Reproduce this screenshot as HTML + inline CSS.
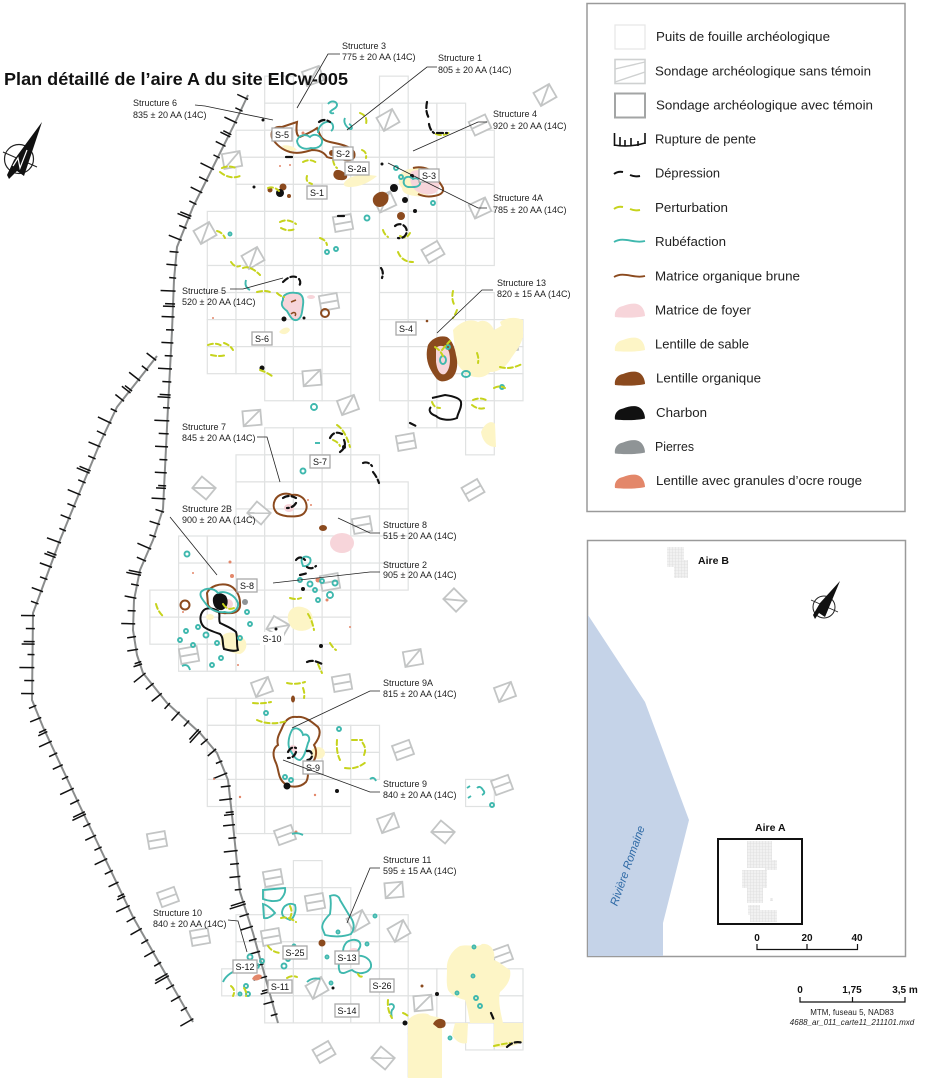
<!DOCTYPE html>
<html><head><meta charset="utf-8"><style>
html,body{margin:0;padding:0;background:#fff;}
svg{display:block;font-family:"Liberation Sans",sans-serif;}
.lb{font-size:9px;fill:#222;}
.lg{font-size:12.5px;fill:#222;}
.pt{fill:none;stroke:#c6d31c;stroke-width:2;stroke-dasharray:5 3;stroke-linecap:round;}
.dp{fill:none;stroke:#111;stroke-width:2.2;stroke-dasharray:6 3;stroke-linecap:round;}
.tl{fill:none;stroke:#3fb8ae;stroke-width:1.9;}
.br{fill:none;stroke:#8b4a1e;stroke-width:2;}
.sand{fill:#fdf5c6;}
.pink{fill:#f7d5da;}
.bf{fill:#8b4a1e;}
.ld{fill:none;stroke:#222;stroke-width:0.8;}
.sl rect{fill:#fff;stroke:#a9a9a9;stroke-width:1.3;}
.sl text{font-size:9px;fill:#111;text-anchor:middle;}
</style></head><body>
<svg id="s" width="925" height="1080" viewBox="0 0 925 1080" xmlns="http://www.w3.org/2000/svg">
<defs>
<pattern id="gp" width="3" height="3" patternUnits="userSpaceOnUse"><rect width="3" height="3" fill="#f1f1f1"/><path d="M0,0H3M0,0V3" stroke="#d6d6d6" stroke-width="0.6"/></pattern>
</defs>
<rect width="925" height="1080" fill="#fff"/>
<g id="grid" fill="#fff" stroke="#e0e2e2" stroke-width="1.2"></g>
<g id="sq" fill="none" stroke="#c3c5c5" stroke-width="1.8"></g>

<!-- slope lines -->
<path id="inner" d="M248,95 L233,127 L213,167 L193,207 L177,247 L174,280 L172,331 L168,407 L163,509 L153,540 L140,570 L134,600 L133,630 L137,655 L143,673 L167,703 L200,733 L217,753 L228,780 L232,815 L240,892 L253,933 L278,1023" fill="none" stroke="#8a8c8c" stroke-width="2"/>
<path id="outer" d="M157,356 L143,374 L117,407 L100,443 L83,484 L60,540 L33,613 L32,700 L43,727 L77,800 L133,917 L193,1022" fill="none" stroke="#8a8c8c" stroke-width="2"/>
<g id="ticks" stroke="#111" stroke-width="1.5"></g>

<!-- sand -->
<g class="sand">
<path d="M282,146 C286,144 294,146 297,150 C292,152 286,151 282,146 Z"/>
<path d="M344,183 C348,176 360,173 377,176 C370,182 360,187 350,187 C346,187 343,186 344,183 Z"/>
<path d="M400,175 C402,170 410,168 418,168 C422,166 430,167 432,170 L435,190 C430,196 420,197 415,196 C408,195 402,193 402,188 C398,184 398,180 400,175 Z"/>
<path d="M279,332 C283,327 289,326 290,330 C288,334 283,336 279,332 Z"/>
<path d="M453,330 C460,322 470,318 478,322 C485,318 492,324 494,330 C502,326 508,320 512,325 C520,320 524,326 523,335 C522,345 515,352 510,360 C505,368 498,372 490,372 C484,380 470,378 465,372 C458,368 455,360 455,350 Z"/>
<path d="M500,322 C505,318 515,316 523,320 L523,338 C515,340 505,336 500,322 Z"/>
<path d="M481,432 C485,422 492,420 495,424 L496,447 C490,447 483,444 481,432 Z"/>
<path d="M222,636 C228,630 238,632 245,640 C248,645 246,652 240,654 C233,654 228,650 223,648 C220,644 220,640 222,636 Z"/>
<path d="M288,615 C290,607 298,605 305,608 C312,610 315,620 312,627 C306,632 298,632 292,628 C289,624 287,620 288,615 Z"/>
<ellipse cx="210" cy="617" rx="4" ry="3"/>
<ellipse cx="318" cy="753" rx="7" ry="6"/>
<path d="M447,970 C446,960 452,950 460,946 C470,944 478,948 482,944 C490,943 496,950 494,960 C500,962 506,968 510,970 C512,980 505,988 500,992 C498,1000 500,1010 503,1023 L470,1023 C468,1012 467,1005 465,1000 C458,998 452,996 448,990 C446,984 447,976 447,970 Z"/>
<path d="M408,1020 C412,1015 420,1012 428,1014 C432,1018 438,1015 442,1020 L442,1078 L408,1078 Z"/>
<path d="M455,1023 L468,1023 L467,1043 C460,1045 455,1040 452,1035 Z"/>
<path d="M494,1023 L523,1023 L523,1042 C515,1046 505,1048 494,1047 Z"/>
</g>
<!-- pink -->
<g class="pink">
<path d="M411,172 C418,168 430,170 437,176 C441,184 440,190 435,193 C428,196 420,194 415,190 C411,186 409,180 411,172 Z"/>
<ellipse cx="342" cy="543" rx="12" ry="10"/>
<ellipse cx="289" cy="508" rx="5" ry="4"/>
<circle cx="228" cy="604" r="5"/>
<ellipse cx="293" cy="749" rx="4" ry="4"/>
<ellipse cx="354" cy="951" rx="5" ry="3"/>
<ellipse cx="311" cy="297" rx="4" ry="2"/>
</g>
<!-- structure 5 -->
<path d="M283,300 C282,294 290,292 296,293 C302,293 304,298 303,305 C302,312 302,318 297,320 C292,321 290,316 287,311 C283,308 280,305 283,300 Z" fill="#f7d5da" stroke="#3fb8ae" stroke-width="1.9"/>
<!-- structure 13 -->
<path class="bf" d="M428,345 C432,338 440,335 447,337 C452,340 455,348 456,355 C458,362 458,372 452,378 C446,382 440,383 436,378 C430,370 424,360 428,345 Z"/>
<path class="pink" d="M436,348 C440,344 447,346 449,352 C451,360 450,370 445,374 C440,376 437,370 436,362 Z"/>

<!-- brown outlines -->
<g class="br">
<path d="M272,138 C270,130 275,126 282,127 L297,122 C296,130 296,136 300,137 C306,134 312,132 317,128 C320,134 320,140 330,142 C340,144 350,146 354,152 C356,158 352,161 345,160 C338,158 332,159 327,157 C324,152 318,150 312,150 C305,152 298,154 290,152 C283,150 277,146 272,138 Z"/>
<path d="M413,168 C420,166 428,168 432,172 C436,178 440,182 443,188 C444,193 440,195 434,196 C428,197 422,196 418,194"/>
<circle cx="325" cy="313" r="4"/>
<path d="M275,500 C278,494 286,492 292,495 C298,494 304,497 306,503 C308,509 305,515 298,516 C290,517 282,516 277,513 C273,509 273,504 275,500 Z"/>
<path d="M207,593 C210,586 220,583 228,585 C235,587 240,595 240,603 C241,610 236,614 228,613 C220,614 212,611 208,605 Z"/>
<circle cx="185" cy="605" r="4.5"/>
<path d="M282,728 C285,720 290,716 297,717 C305,716 312,722 318,727 C322,733 318,740 314,745 C318,752 316,760 310,765 C306,770 310,776 306,782 C300,788 290,788 284,783 C278,778 279,770 276,763 C272,755 273,748 278,745 C276,738 280,733 282,728 Z"/>
<path d="M291,302 L296,300 M291,314 C294,311 297,313 295,316" stroke-width="1.5"/>
</g>
<!-- brown fills -->
<g class="bf">
<path d="M334,172 C336,168 342,170 346,174 C349,177 346,181 340,180 C335,180 332,176 334,172 Z"/>
<path d="M374,196 C378,191 385,190 388,195 C390,201 386,206 380,207 C374,207 371,201 374,196 Z"/>
<circle cx="401" cy="216" r="4"/><circle cx="283" cy="187" r="3.5"/><circle cx="270" cy="190" r="2.5"/><circle cx="289" cy="196" r="2"/><circle cx="332" cy="153" r="3"/>
<ellipse cx="323" cy="528" rx="4" ry="3"/>
<path d="M433,1024 C435,1019 441,1017 445,1021 C447,1026 444,1029 438,1028 Z"/>
<circle cx="322" cy="943" r="3.5"/><ellipse cx="293" cy="699" rx="2" ry="3.5"/><circle cx="422" cy="986" r="1.5"/><circle cx="427" cy="321" r="1.3"/>
</g>
<!-- charcoal -->
<g fill="#111">
<path d="M213,598 C215,592 222,592 226,596 C229,601 228,608 222,610 C216,611 212,605 213,598 Z"/>
<circle cx="280" cy="193" r="4"/><circle cx="263" cy="120" r="1.5"/><circle cx="254" cy="187" r="1.5"/><circle cx="394" cy="188" r="4"/><circle cx="405" cy="200" r="3"/><circle cx="412" cy="176" r="2"/><circle cx="382" cy="164" r="1.5"/>
<circle cx="284" cy="319" r="2.5"/><circle cx="262" cy="368" r="2.5"/><circle cx="304" cy="318" r="1.5"/>
<circle cx="287" cy="786" r="3.5"/><circle cx="337" cy="791" r="2"/><circle cx="405" cy="1023" r="2.5"/><circle cx="303" cy="589" r="2"/><circle cx="344" cy="447" r="2"/><circle cx="333" cy="988" r="1.5"/><circle cx="437" cy="994" r="2"/><circle cx="321" cy="646" r="2"/><circle cx="276" cy="629" r="1.5"/><circle cx="415" cy="211" r="2"/>
</g>
<!-- salmon & stones -->
<g fill="#e3876a">
<circle cx="303" cy="133" r="1.5"/><circle cx="280" cy="166" r="1"/><circle cx="290" cy="165" r="1"/><circle cx="213" cy="318" r="1"/><circle cx="230" cy="562" r="1.5"/><circle cx="232" cy="576" r="2"/><circle cx="193" cy="573" r="1"/><circle cx="308" cy="500" r="1"/><circle cx="311" cy="505" r="1"/><circle cx="318" cy="580" r="2.5"/><circle cx="327" cy="600" r="1.5"/><circle cx="350" cy="627" r="1"/><circle cx="183" cy="612" r="1"/><circle cx="238" cy="665" r="1"/><circle cx="240" cy="797" r="1.2"/><circle cx="315" cy="795" r="1.2"/><circle cx="296" cy="832" r="1.5"/><circle cx="214" cy="779" r="1"/>
<path d="M252,979 C254,974 260,973 262,976 C261,980 256,982 252,979 Z"/>
</g>
<circle cx="245" cy="602" r="3" fill="#8f9496"/>

<!-- black outlines -->
<path d="M432,398 L445,395 C452,396 460,398 461,402 C462,408 458,412 457,418 C450,421 440,420 436,416 C430,414 428,410 431,407" fill="none" stroke="#111" stroke-width="2"/>
<path d="M203,611 C206,607 213,608 218,611 C221,614 218,619 220,623 C226,626 232,628 236,632 C238,638 236,644 238,650 C234,652 228,650 224,649 C222,643 224,638 220,634 C214,632 208,630 204,627 C200,623 199,616 203,611 Z" fill="none" stroke="#111" stroke-width="2"/>

<!-- teal outlines -->
<g class="tl">
<path d="M297,141 C299,134 306,134 310,137 C314,133 320,135 322,140 C323,146 317,149 311,148 C305,150 298,148 297,141 Z"/>
<path d="M318,133 C318,126 324,121 330,122 C334,124 334,129 331,131"/>
<path d="M328,104 C331,100 337,101 337,105 C337,108 333,109 331,111 C329,112 331,114 334,113"/>
<path d="M345,118 C343,122 346,127 350,129 C353,130 352,125 349,124"/>
<path d="M404,180 C405,176 410,176 413,179 C417,177 421,180 420,184 C418,188 412,187 408,187 C404,186 403,183 404,180 Z"/>
<circle cx="396" cy="168" r="2"/><circle cx="401" cy="177" r="2"/><circle cx="433" cy="203" r="2"/><circle cx="327" cy="252" r="2"/><circle cx="336" cy="249" r="2"/><circle cx="367" cy="218" r="2.5"/><circle cx="230" cy="234" r="1.5"/>
<ellipse cx="443" cy="360" rx="3" ry="4"/><circle cx="448" cy="347" r="2"/><ellipse cx="466" cy="374" rx="4" ry="3"/><circle cx="502" cy="387" r="2"/><circle cx="314" cy="407" r="3"/>
<path d="M246,280 Q244,287 250,290"/>
<circle cx="303" cy="471" r="2.5"/><path d="M315,443 L320,443"/><circle cx="187" cy="554" r="2.5"/>
<path d="M302,563 C300,557 306,555 310,558 C312,562 308,567 303,566 Z"/>
<circle cx="300" cy="580" r="2"/><circle cx="310" cy="584" r="2.5"/><circle cx="322" cy="581" r="2"/><circle cx="315" cy="590" r="2"/><circle cx="335" cy="583" r="2.5"/><circle cx="330" cy="595" r="3"/><circle cx="318" cy="600" r="2"/>
<path d="M201,592 C206,587 214,588 218,593 C225,590 235,595 238,603 C239,610 232,614 225,612 C218,613 210,610 206,604 C203,600 199,596 201,592 Z"/>
<circle cx="198" cy="627" r="2"/><circle cx="206" cy="635" r="2.5"/><circle cx="186" cy="631" r="2"/><circle cx="180" cy="640" r="2"/><circle cx="193" cy="645" r="2"/><circle cx="217" cy="643" r="2"/><circle cx="240" cy="638" r="2"/><circle cx="221" cy="658" r="2"/><circle cx="212" cy="665" r="2"/><circle cx="250" cy="624" r="2"/><circle cx="247" cy="612" r="2"/><path d="M182,666 Q188,663 190,670"/>
<path d="M292,730 C296,726 302,730 303,735 C308,733 311,738 308,743 C306,750 304,758 300,760 C295,760 293,754 290,750 C287,744 289,736 292,730 Z"/>
<circle cx="266" cy="713" r="2"/><circle cx="339" cy="729" r="2"/><path d="M370,779 Q374,776 376,781"/><path d="M292,834 Q297,832 303,835"/><circle cx="285" cy="777" r="2"/><circle cx="291" cy="780" r="2"/>
<path d="M467,788 L470,786 M477,788 Q480,785 483,790 Q486,793 482,795 M468,798 L471,796"/><circle cx="492" cy="805" r="2"/>
<path d="M263,890 L285,888 C286,893 283,897 280,900 C275,902 268,901 263,899 Z"/>
<path d="M263,904 L264,918 C268,919 272,916 275,913 C272,909 267,905 263,904 Z"/>
<path d="M282,912 C283,905 290,902 295,905 C297,912 293,919 290,920 C287,918 282,918 282,912 Z"/>
<path d="M323,930 C320,925 326,918 330,914 C331,907 331,900 330,896 C335,894 339,896 340,900 C343,905 346,910 349,915 C353,920 356,927 351,934 C343,937 333,937 325,935 Z"/>
<path d="M347,942 C352,939 358,939 360,943 C362,948 356,950 357,956 C365,955 372,960 371,967 C368,974 358,975 352,970 C347,971 344,975 340,972 C337,966 340,958 343,953 C343,950 343,946 347,942 Z"/>
<path d="M223,982 C226,975 232,972 237,970"/><path d="M307,982 Q312,977 320,979"/>
<circle cx="250" cy="957" r="2.5"/><circle cx="262" cy="961" r="2"/><circle cx="257" cy="966" r="2"/><circle cx="284" cy="966" r="2.5"/><circle cx="288" cy="959" r="2"/><circle cx="246" cy="986" r="2"/><circle cx="248" cy="994" r="2"/><circle cx="240" cy="994" r="1.5"/><circle cx="294" cy="946" r="1.5"/><circle cx="338" cy="932" r="1.5"/><circle cx="375" cy="916" r="1.5"/><circle cx="367" cy="944" r="1.5"/><circle cx="331" cy="983" r="1.5"/><circle cx="327" cy="957" r="1.5"/>
<path d="M389,1005 C393,1002 396,1007 392,1010 C390,1014 393,1017 391,1018"/>
<circle cx="473" cy="976" r="1.5"/><circle cx="476" cy="998" r="2"/><circle cx="480" cy="1006" r="2"/><circle cx="450" cy="1038" r="1.5"/><circle cx="474" cy="947" r="1.5"/><circle cx="457" cy="993" r="1.5"/>
</g>

<!-- perturbation -->
<g class="pt">
<path d="M360,113 Q368,116 366,124"/><path d="M303,162 Q310,158 317,163"/><path d="M307,176 Q305,182 312,184"/><path d="M220,172 Q230,180 240,176"/><path d="M222,168 Q228,165 236,168"/><path d="M268,188 Q274,186 279,191"/><path d="M280,222 Q288,218 296,224"/><path d="M281,228 Q288,232 295,229"/><path d="M217,231 Q222,232 225,238"/><path d="M320,238 Q326,240 327,245"/><path d="M362,150 Q367,152 366,158"/><path d="M333,160 Q334,166 337,168"/><path d="M383,230 Q384,234 388,237"/><path d="M398,252 Q402,262 413,262"/><path d="M436,134 Q443,137 450,132"/><path d="M400,236 Q406,240 410,233"/><path d="M243,268 Q250,265 260,275"/><path d="M257,292 Q265,290 270,292"/><path d="M277,293 Q280,296 284,297"/><path d="M208,345 Q216,342 222,346"/><path d="M224,343 Q230,345 233,350"/><path d="M211,355 Q220,357 226,355"/><path d="M260,370 Q266,372 272,376"/><path d="M453,291 Q451,300 455,306"/><path d="M457,310 Q455,315 453,318"/><path d="M477,353 Q479,358 478,363"/><path d="M500,367 Q510,370 522,364"/><path d="M473,400 Q480,397 486,400"/><path d="M494,388 Q500,385 505,388"/><path d="M435,347 Q440,350 443,356"/><path d="M442,350 Q446,345 450,341"/><path d="M231,262 Q235,268 240,266"/><path d="M472,405 Q478,410 485,408"/><path d="M432,402 Q434,408 440,408"/>
<path d="M337,425 Q345,430 350,447"/><path d="M156,604 Q158,612 164,617"/><path d="M308,614 Q312,620 314,630"/><path d="M318,664 Q320,669 322,673"/><path d="M333,440 Q338,442 340,446"/><path d="M223,604 Q228,612 236,607"/><path d="M290,598 Q296,600 301,598"/><path d="M330,643 Q333,648 336,650"/>
<path d="M253,703 Q262,704 271,702"/><path d="M287,683 Q296,685 305,682"/><path d="M303,688 Q305,693 304,698"/><path d="M257,720 Q270,726 287,721"/><path d="M337,740 Q336,752 340,760"/><path d="M345,768 Q356,770 366,762"/><path d="M364,755 Q367,748 362,742"/><path d="M352,740 L362,740"/>
<path d="M281,918 Q288,916 296,922"/><path d="M268,946 Q272,952 280,953"/><path d="M231,986 Q236,990 233,996"/><path d="M244,988 Q247,992 246,996"/><path d="M287,978 Q292,975 297,977"/><path d="M358,974 Q360,978 363,976"/><path d="M388,1000 Q387,1010 392,1018"/><path d="M403,1013 Q406,1014 408,1016"/><path d="M494,1046 Q502,1044 510,1043"/><path d="M290,906 Q293,912 290,918"/>
</g>
<!-- depression -->
<g class="dp">
<path d="M427,102 Q425,112 429,118"/><path d="M429,124 Q430,130 434,133"/><path d="M437,133 L447,133"/><path d="M319,122 Q324,118 330,122"/><path d="M395,226 A7,7 0 1 1 398,238"/><path d="M283,282 Q290,275 296,277"/><path d="M299,279 Q302,283 298,287"/><path d="M381,268 Q384,272 382,278"/><path d="M410,423 L416,426"/><path d="M330,438 Q334,430 342,434"/><path d="M344,440 Q347,447 340,452"/><path d="M363,463 Q368,461 372,466"/><path d="M373,472 Q377,477 379,483"/><path d="M283,498 Q289,494 296,498"/><path d="M296,503 Q293,508 287,508"/><path d="M296,560 Q300,555 305,560"/><path d="M307,567 Q311,570 316,566"/><path d="M300,575 L308,573"/><path d="M307,662 Q313,659 322,664"/><path d="M288,752 Q291,746 296,748"/><path d="M296,752 Q294,758 288,758"/><path d="M307,751 Q312,750 312,756 Q311,760 307,760"/><path d="M507,1047 Q514,1040 523,1043"/><path d="M491,1013 L494,1020"/><path d="M286,157 L293,157"/><path d="M338,216 L345,216"/>
</g>

<!-- S labels -->
<g class="sl">
<g transform="translate(282,135)"><rect x="-10" y="-7" width="20" height="13"/><text y="3">S-5</text></g>
<g transform="translate(343,154)"><rect x="-10" y="-7" width="20" height="13"/><text y="3">S-2</text></g>
<g transform="translate(357,169)"><rect x="-12" y="-7" width="24" height="13"/><text y="3">S-2a</text></g>
<g transform="translate(317,193)"><rect x="-10" y="-7" width="20" height="13"/><text y="3">S-1</text></g>
<g transform="translate(429,176)"><rect x="-10" y="-7" width="20" height="13"/><text y="3">S-3</text></g>
<g transform="translate(262,339)"><rect x="-10" y="-7" width="20" height="13"/><text y="3">S-6</text></g>
<g transform="translate(406,329)"><rect x="-10" y="-7" width="20" height="13"/><text y="3">S-4</text></g>
<g transform="translate(320,462)"><rect x="-10" y="-7" width="20" height="13"/><text y="3">S-7</text></g>
<g transform="translate(247,586)"><rect x="-10" y="-7" width="20" height="13"/><text y="3">S-8</text></g>
<g transform="translate(272,639)"><rect x="-12" y="-7" width="24" height="13" style="stroke:none"/><text y="3">S-10</text></g>
<g transform="translate(313,768)"><rect x="-10" y="-7" width="20" height="13"/><text y="3">S-9</text></g>
<g transform="translate(295,953)"><rect x="-12" y="-7" width="24" height="13"/><text y="3">S-25</text></g>
<g transform="translate(347,958)"><rect x="-12" y="-7" width="24" height="13"/><text y="3">S-13</text></g>
<g transform="translate(245,967)"><rect x="-12" y="-7" width="24" height="13"/><text y="3">S-12</text></g>
<g transform="translate(280,987)"><rect x="-12" y="-7" width="24" height="13"/><text y="3">S-11</text></g>
<g transform="translate(382,986)"><rect x="-12" y="-7" width="24" height="13"/><text y="3">S-26</text></g>
<g transform="translate(347,1011)"><rect x="-12" y="-7" width="24" height="13"/><text y="3">S-14</text></g>
</g>

<!-- leader lines -->
<g class="ld">
<path d="M340,54 L328,54 L297,108"/><path d="M437,67 L427,67 L347,130"/><path d="M195,105 L205,106 L273,120"/><path d="M487,122 L478,122 L413,151"/><path d="M487,208 L478,208 L388,163"/><path d="M230,289 L243,289 L283,278"/><path d="M493,290 L482,290 L437,333"/><path d="M257,437 L267,437 L280,482"/><path d="M170,517 L217,575"/><path d="M338,518 L370,533 L380,533"/><path d="M380,572 L370,572 L273,583"/><path d="M380,691 L370,691 L292,728"/><path d="M380,792 L370,792 L283,760"/><path d="M380,868 L370,868 L347,923"/><path d="M228,920 L238,921 L247,952"/>
</g>
<g class="lb">
<text x="342" y="49">Structure 3</text><text x="342" y="60">775 ± 20 AA (14C)</text>
<text x="438" y="61">Structure 1</text><text x="438" y="73">805 ± 20 AA (14C)</text>
<text x="133" y="106">Structure 6</text><text x="133" y="118">835 ± 20 AA (14C)</text>
<text x="493" y="117">Structure 4</text><text x="493" y="129">920 ± 20 AA (14C)</text>
<text x="493" y="201">Structure 4A</text><text x="493" y="213">785 ± 20 AA (14C)</text>
<text x="182" y="294">Structure 5</text><text x="182" y="305">520 ± 20 AA (14C)</text>
<text x="497" y="286">Structure 13</text><text x="497" y="297">820 ± 15 AA (14C)</text>
<text x="182" y="430">Structure 7</text><text x="182" y="441">845 ± 20 AA (14C)</text>
<text x="182" y="512">Structure 2B</text><text x="182" y="523">900 ± 20 AA (14C)</text>
<text x="383" y="528">Structure 8</text><text x="383" y="539">515 ± 20 AA (14C)</text>
<text x="383" y="568">Structure 2</text><text x="383" y="578">905 ± 20 AA (14C)</text>
<text x="383" y="686">Structure 9A</text><text x="383" y="697">815 ± 20 AA (14C)</text>
<text x="383" y="787">Structure 9</text><text x="383" y="798">840 ± 20 AA (14C)</text>
<text x="383" y="863">Structure 11</text><text x="383" y="874">595 ± 15 AA (14C)</text>
<text x="153" y="916">Structure 10</text><text x="153" y="927">840 ± 20 AA (14C)</text>
</g>

<!-- title -->
<text x="4" y="85" font-size="17.5" font-weight="bold" fill="#111" textLength="344" lengthAdjust="spacingAndGlyphs">Plan détaillé de l’aire A du site ElCw-005</text>

<!-- main compass -->
<g>
<circle cx="19" cy="159" r="14.5" fill="none" stroke="#222" stroke-width="1.2"/>
<line x1="3" y1="152" x2="37" y2="167" stroke="#222" stroke-width="1"/>
<polygon points="42,122 24,176 17,171 9,179 7,175 14,160" fill="#111"/>
<polyline points="13,166 18,158 20,168 27,150" fill="none" stroke="#fff" stroke-width="1.2"/>
</g>

<!-- legend -->
<rect x="587" y="3.5" width="318" height="508" fill="#fff" stroke="#9a9a9a" stroke-width="1.5"/>
<rect x="615" y="25" width="30" height="24" fill="#fff" stroke="#e6e6e6" stroke-width="1.2"/>
<rect x="615" y="59.5" width="30" height="24" fill="#fff" stroke="#cfd1d1" stroke-width="1.6"/>
<path d="M615,69 L645,62 M615,82 L645,72" stroke="#cfd1d1" stroke-width="1.4"/>
<rect x="615" y="93.5" width="30" height="24" fill="#fff" stroke="#a3a5a5" stroke-width="2"/>
<path d="M614,145 C625,147 635,146 645,143 M614.5,133 V146 M620,137 V146 M625,140 V146 M631,138 V146 M638,141 V146 M645,133 V144" fill="none" stroke="#111" stroke-width="1.6"/>
<path d="M614,174 Q618,171 623,172 M630,175 Q635,177 640,176" fill="none" stroke="#111" stroke-width="2"/>
<path d="M614,209 Q618,206 623,207 M630,209 Q635,211 640,210" fill="none" stroke="#c6d31c" stroke-width="2"/>
<path d="M614,242 C624,236 634,244 645,241" fill="none" stroke="#3fb8ae" stroke-width="1.8"/>
<path d="M614,277 C624,271 634,279 645,276" fill="none" stroke="#8b4a1e" stroke-width="1.8"/>
<g id="blobs"></g>
<g class="lg">
<text x="656" y="41" textLength="174" lengthAdjust="spacingAndGlyphs">Puits de fouille archéologique</text>
<text x="655" y="75.5" textLength="216" lengthAdjust="spacingAndGlyphs">Sondage archéologique sans témoin</text>
<text x="656" y="109.5" textLength="217" lengthAdjust="spacingAndGlyphs">Sondage archéologique avec témoin</text>
<text x="655" y="143.5" textLength="101" lengthAdjust="spacingAndGlyphs">Rupture de pente</text>
<text x="655" y="177.5" textLength="65" lengthAdjust="spacingAndGlyphs">Dépression</text>
<text x="655" y="212" textLength="73" lengthAdjust="spacingAndGlyphs">Perturbation</text>
<text x="655" y="246" textLength="71" lengthAdjust="spacingAndGlyphs">Rubéfaction</text>
<text x="655" y="280.5" textLength="145" lengthAdjust="spacingAndGlyphs">Matrice organique brune</text>
<text x="655" y="314.5" textLength="96" lengthAdjust="spacingAndGlyphs">Matrice de foyer</text>
<text x="655" y="348.5" textLength="94" lengthAdjust="spacingAndGlyphs">Lentille de sable</text>
<text x="656" y="382.5" textLength="105" lengthAdjust="spacingAndGlyphs">Lentille organique</text>
<text x="656" y="417" textLength="51" lengthAdjust="spacingAndGlyphs">Charbon</text>
<text x="655" y="451" textLength="39" lengthAdjust="spacingAndGlyphs">Pierres</text>
<text x="656" y="485" textLength="206" lengthAdjust="spacingAndGlyphs">Lentille avec granules d’ocre rouge</text>
</g>

<!-- inset map -->
<rect x="587.5" y="540.5" width="318" height="416" fill="#fff" stroke="#9a9a9a" stroke-width="1.5"/>
<polygon points="588,615 645,702 689,820 663,923 663,956 588,956" fill="#c5d3e8"/>
<text transform="translate(631,867) rotate(-70.7)" text-anchor="middle" font-size="11.5" font-style="italic" fill="#2f6aa6" textLength="84" lengthAdjust="spacingAndGlyphs">Rivière Romaine</text>
<path d="M667,547 H684 V560 H688 V578 H674 V567 H667 Z" fill="url(#gp)"/>
<text x="698" y="564" font-size="10.5" font-weight="bold" fill="#111">Aire B</text>
<g>
<circle cx="824" cy="607" r="11" fill="none" stroke="#222" stroke-width="1"/>
<line x1="811" y1="600" x2="838" y2="612" stroke="#222" stroke-width="0.8"/>
<polygon points="840,581 825,617 819,613 815,619 813,615 820,603" fill="#111"/>
</g>
<text x="755" y="831" font-size="10.5" font-weight="bold" fill="#111">Aire A</text>
<rect x="718" y="839" width="84" height="85" fill="#fff" stroke="#111" stroke-width="2"/>
<g fill="url(#gp)">
<path d="M747,841 H772 V860 H777 V870 H765 V868 H747 Z"/>
<path d="M742,870 H767 V888 H763 V903 H747 V888 H742 Z"/>
<rect x="770" y="898" width="3" height="3"/>
<path d="M748,905 H760 V910 H777 V922 H750 V915 H748 Z"/>
</g>
<g font-size="10" font-weight="bold" fill="#111" text-anchor="middle">
<text x="757" y="941">0</text><text x="807" y="941">20</text><text x="857" y="941">40</text>
</g>
<path d="M757,944 V949.5 H857.5 V944 M807,944 V949.5" fill="none" stroke="#111" stroke-width="1.2"/>
<!-- main scale -->
<g font-size="10" font-weight="bold" fill="#111" text-anchor="middle">
<text x="800" y="993">0</text><text x="852" y="993">1,75</text><text x="905" y="993">3,5 m</text>
</g>
<path d="M800,997 V1002 H905 V997 M852.5,997 V1002" fill="none" stroke="#111" stroke-width="1.2"/>
<text x="852" y="1015" font-size="8" fill="#222" text-anchor="middle">MTM, fuseau 5, NAD83</text>
<text x="852" y="1025" font-size="8" font-style="italic" fill="#222" text-anchor="middle">4688_ar_011_carte11_211101.mxd</text>
</svg>
<script>
(function(){
var NS='http://www.w3.org/2000/svg';
function el(t,a,p){var e=document.createElementNS(NS,t);for(var k in a)e.setAttribute(k,a[k]);p.appendChild(e);return e;}
var X=function(k){return 207.3+28.7*k;},Y=function(j){return 265.5+27.05*j;};
var rows=[
[-7,[[2,2],[6,6]]],[-6,[[2,8]]],[-5,[[1,9]]],[-4,[[1,9]]],[-3,[[1,9]]],[-2,[[0,9]]],[-1,[[0,9]]],
[0,[[0,4],[6,8]]],[1,[[0,4],[6,9]]],[2,[[0,4],[6,10]]],[3,[[0,4],[6,10]]],[4,[[2,4],[6,10]]],[5,[[7,9]]],[6,[[2,4],[9,9]]],
[7,[[1,5]]],[8,[[1,6]]],[9,[[1,6]]],[10,[[-1,6]]],[11,[[-1,6]]],[12,[[-2,4]]],[13,[[-2,4]]],[14,[[-1,3]]],
[16,[[0,3]]],[17,[[0,5]]],[18,[[0,5]]],[19,[[0,4],[9,9]]],[20,[[1,4]]],
[22,[[3,3]]],[23,[[2,4]]],[24,[[1,6]]],[25,[[1,6]]],[26,[[1,10]]],[27,[[2,10]]],[28,[[7,7],[9,10]]],[29,[[7,7]]]
];
var g=document.getElementById('grid');
rows.forEach(function(r){var j=r[0];r[1].forEach(function(rg){for(var k=rg[0];k<=rg[1];k++)el('rect',{x:X(k),y:Y(j),width:28.7,height:27.05},g);});});
el('rect',{x:221.7,y:Y(26),width:15,height:27.05},g);
var sq=[[313,76,-20,'d'],[545,95,-30,'d'],[388,120,-30,'d'],[480,125,-25,'h'],[232,160,-10,'d'],[343,223,-10,'h'],[385,202,-25,'d'],[480,208,-25,'d'],[205,233,-30,'d'],[253,258,-30,'d'],[433,252,-30,'h'],
[329,302,-10,'h'],[508,344,-10,'h'],[312,378,-5,'d'],[348,405,-20,'d'],[252,418,-5,'d'],[406,442,-10,'h'],
[204,488,40,'d'],[259,513,40,'d'],[362,525,-10,'h'],[473,490,-30,'h'],[330,582,-10,'h'],[455,600,45,'d'],[189,655,-10,'h'],[413,658,-10,'d'],[278,627,30,'d'],
[262,687,-20,'d'],[342,683,-10,'h'],[505,692,-20,'d'],[403,750,-20,'h'],[502,785,-20,'h'],[388,823,-20,'d'],[443,832,40,'d'],[285,835,-20,'h'],[157,840,-10,'h'],
[273,878,-10,'h'],[168,897,-20,'h'],[394,890,-5,'d'],[315,902,-10,'h'],[358,921,-30,'d'],[399,931,-30,'d'],[200,937,-10,'h'],[271,937,-10,'h'],[502,955,-20,'h'],[317,988,-30,'d'],[423,1003,-5,'d'],[419,1040,-10,'d'],[324,1052,-30,'h'],[383,1058,40,'d']];
var sg=document.getElementById('sq');
sq.forEach(function(s){var gg=el('g',{transform:'translate('+s[0]+','+s[1]+') rotate('+s[2]+')'},sg);el('rect',{x:-9,y:-7.5,width:18,height:15,fill:'#fff'},gg);if(s[3]=='d')el('line',{x1:-9,y1:7.5,x2:9,y2:-7.5},gg);else el('line',{x1:-9,y1:0,x2:9,y2:0},gg);});
var tg=document.getElementById('ticks');var lens=[10,6,12,7,9,5,13,8,11,6];
function ticks(id){var p=document.getElementById(id);var L=p.getTotalLength();var i=0;for(var l=4;l<L-2;l+=13){var a=p.getPointAtLength(l),b=p.getPointAtLength(Math.min(L,l+1));var dx=b.x-a.x,dy=b.y-a.y;var m=Math.hypot(dx,dy)||1;dx/=m;dy/=m;var nx=-dy,ny=dx;var len=lens[i%lens.length];el('line',{x1:a.x-nx*2,y1:a.y-ny*2,x2:a.x+nx*len,y2:a.y+ny*len},tg);if(i%7==3){var c=p.getPointAtLength(l+2.5);el('line',{x1:c.x-nx*2,y1:c.y-ny*2,x2:c.x+nx*(len+2),y2:c.y+ny*(len+2)},tg);}i++;}}
ticks('inner');ticks('outer');
var bl=document.getElementById('blobs');
var cols=[['#f7d5da',310],['#fdf5c6',344],['#8b4a1e',378],['#111',412.5],['#8f9496',446.5],['#e3876a',481]];
cols.forEach(function(c){el('path',{d:'M615,'+(c[1]+7)+' C614,'+(c[1]+2)+' 617,'+(c[1]-3)+' 623,'+(c[1]-4)+' C628,'+(c[1]-6)+' 633,'+(c[1]-7)+' 637,'+(c[1]-6)+' C642,'+(c[1]-5)+' 645,'+(c[1]+1)+' 645,'+(c[1]+6)+' C638,'+(c[1]+8)+' 622,'+(c[1]+8)+' 615,'+(c[1]+7)+' Z',fill:c[0]},bl);});
})();
</script>
</body></html>
